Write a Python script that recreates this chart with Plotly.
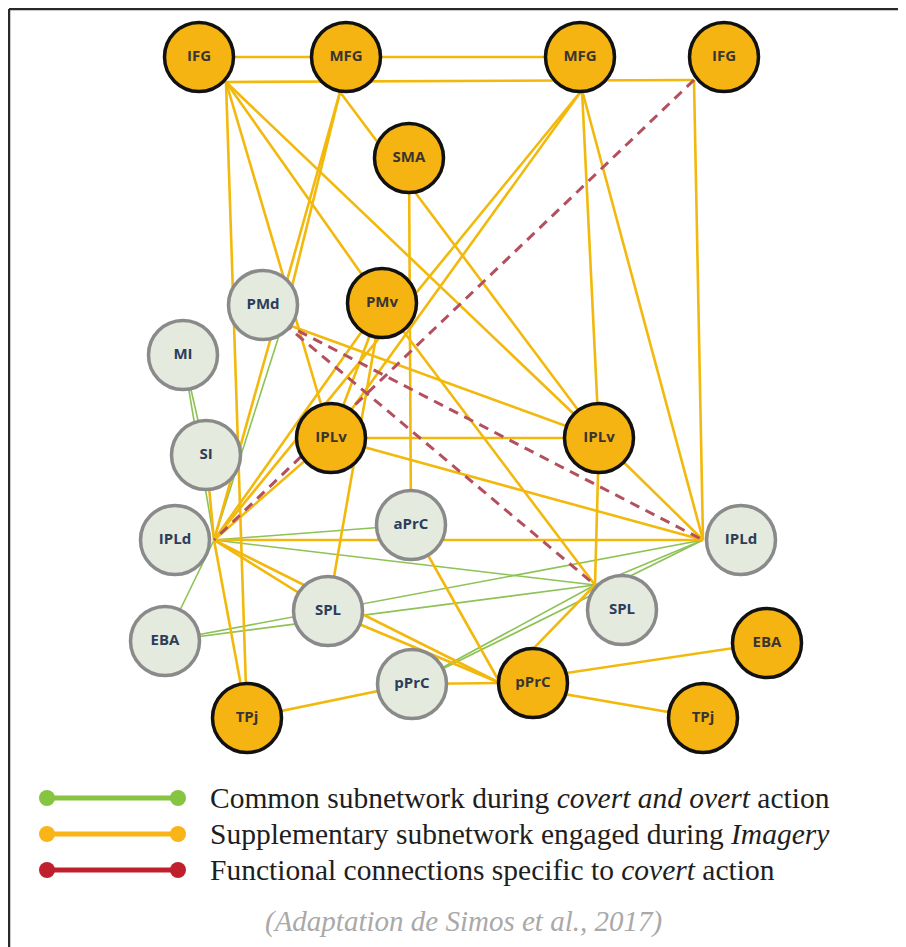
import plotly.graph_objects as go

# ---------------- data ----------------
node_ids = ["IFG_L", "MFG_L", "MFG_R", "IFG_R", "SMA", "PMd", "PMv", "MI", "SI",
            "IPLv_L", "IPLv_R", "IPLd_L", "aPrC", "IPLd_R", "SPL_L", "SPL_R",
            "EBA_L", "EBA_R", "pPrC_L", "pPrC_R", "TPj_L", "TPj_R"]
node_labels = ["IFG", "MFG", "MFG", "IFG", "SMA", "PMd", "PMv", "MI", "SI",
               "IPLv", "IPLv", "IPLd", "aPrC", "IPLd", "SPL", "SPL",
               "EBA", "EBA", "pPrC", "pPrC", "TPj", "TPj"]
node_x = [199, 346, 580, 724, 409, 263, 382, 183, 206,
          331, 599, 175, 411, 741, 328, 622,
          165, 767, 412, 533, 247, 703]
node_y = [57, 57, 57, 57, 158, 305, 303, 355, 455,
          438, 438, 540, 525, 540, 611, 610,
          641, 643, 684, 683, 718, 718]
node_group = ["img", "img", "img", "img", "img", "com", "img", "com", "com",
              "img", "img", "com", "com", "com", "com", "com",
              "com", "img", "com", "img", "img", "img"]

# connection points where several links meet on a node border
port_id = ["IFG_L", "MFG_L", "MFG_R", "IFG_R", "IPLd_L", "IPLd_R", "SPL_R", "pPrC_R", "PMd"]
port_x = [226, 340, 582, 694, 214, 703, 595, 500, 283]
port_y = [82, 92, 90, 80, 540, 540, 585, 683, 323]

# links drawn centre to centre
center_links = [("IFG_L", "MFG_L"), ("MFG_L", "MFG_R")]

imagery_links = [
    ("IFG_L", "IFG_R"), ("IFG_L", "TPj_L"), ("IFG_L", "IPLv_L"), ("IFG_L", "PMv"),
    ("IFG_L", "IPLv_R"), ("MFG_L", "PMd"), ("MFG_L", "IPLd_L"), ("MFG_L", "IPLv_R"),
    ("SMA", "aPrC"), ("MFG_R", "IPLv_R"), ("MFG_R", "IPLd_R"), ("MFG_R", "IPLd_L"),
    ("MFG_R", "IPLv_L"), ("IFG_R", "IPLd_R"), ("PMd", "IPLv_R"), ("PMv", "IPLv_L"),
    ("PMv", "IPLd_L"), ("PMv", "SPL_L"), ("PMv", "SPL_R"), ("IPLv_L", "IPLv_R"),
    ("IPLv_L", "IPLd_R"), ("IPLv_L", "IPLd_L"), ("IPLv_R", "IPLd_R"), ("IPLv_R", "SPL_R"),
    ("IPLd_L", "IPLd_R"), ("IPLd_L", "SPL_L"), ("IPLd_L", "pPrC_R"), ("IPLd_L", "TPj_L"),
    ("SI", "IPLd_L"), ("SPL_L", "pPrC_R"), ("aPrC", "pPrC_R"), ("pPrC_L", "pPrC_R"),
    ("pPrC_L", "TPj_L"), ("pPrC_R", "SPL_R"), ("pPrC_R", "EBA_R"), ("pPrC_R", "TPj_R"),
]
common_links = [
    ("MI", "SI"), ("MI", "IPLd_L"), ("PMd", "IPLd_L"), ("IPLd_L", "aPrC"),
    ("IPLd_L", "SPL_L"), ("IPLd_L", "SPL_R"), ("IPLd_L", "EBA_L"), ("EBA_L", "IPLd_R"),
    ("EBA_L", "SPL_R"), ("pPrC_L", "IPLd_R"), ("pPrC_L", "SPL_R"), ("SPL_R", "IPLd_R"),
]
covert_links = [("IFG_R", "IPLd_L"), ("PMd", "IPLd_R"), ("PMd", "SPL_R")]

legend_texts = [
    "Common subnetwork during <i>covert and overt</i> action",
    "Supplementary subnetwork engaged during <i>Imagery</i>",
    "Functional connections specific to <i>covert</i> action",
]
caption = "<i>(Adaptation de Simos et al., 2017)</i>"

# ---------------- styles ----------------
W, H = 906, 947
OFF = 8  # page body margin of the browser
ORANGE = "#F5B412"
GREY_FILL = "#E4EADD"
YELLOW = "#F2B90C"
GREEN = "#8DC255"
DASH_RED = "#B4505E"
LEG_COLORS = ["#86C441", "#F9B417", "#C0202E"]
SERIF = "Liberation Serif, Times New Roman, serif"

center = {n: (x, y) for n, x, y in zip(node_ids, node_x, node_y)}
port = {n: (x, y) for n, x, y in zip(port_id, port_x, port_y)}


def pt(n, use_center=False):
    if use_center:
        return center[n]
    return port.get(n, center[n])


def segs(links, use_center=False):
    xs, ys = [], []
    for a, b in links:
        (x0, y0), (x1, y1) = pt(a, use_center), pt(b, use_center)
        xs += [x0, x1, None]
        ys += [y0, y1, None]
    return xs, ys


fig = go.Figure()

xs, ys = segs(common_links)
fig.add_trace(go.Scatter(x=xs, y=ys, mode="lines", line=dict(color=GREEN, width=1.6),
                         hoverinfo="skip", showlegend=False))
xs, ys = segs(imagery_links)
xc, yc = segs(center_links, use_center=True)
fig.add_trace(go.Scatter(x=xs + xc, y=ys + yc, mode="lines", line=dict(color=YELLOW, width=2.6),
                         hoverinfo="skip", showlegend=False))
xs, ys = segs(covert_links)
fig.add_trace(go.Scatter(x=xs, y=ys, mode="lines",
                         line=dict(color=DASH_RED, width=3, dash="10px,7px"),
                         hoverinfo="skip", showlegend=False))

# nodes
for grp, fill, edge, tcol in [("com", GREY_FILL, "#8A8A8A", "#2C3D5A"),
                              ("img", ORANGE, "#111111", "#3A3530")]:
    idx = [i for i, g in enumerate(node_group) if g == grp]
    fig.add_trace(go.Scatter(
        x=[node_x[i] for i in idx], y=[node_y[i] for i in idx],
        text=["<b>%s</b>" % node_labels[i] for i in idx],
        mode="markers+text", textposition="middle center",
        textfont=dict(family="Open Sans, Noto Sans, sans-serif", size=15, color=tcol),
        marker=dict(size=69, color=fill, line=dict(color=edge, width=3.5)),
        hoverinfo="skip", showlegend=False))

# legend (drawn manually)
leg_y = [798, 834, 870]
for yv, col, txt in zip(leg_y, LEG_COLORS, legend_texts):
    fig.add_trace(go.Scatter(x=[47, 178], y=[yv, yv], mode="lines+markers",
                             line=dict(color=col, width=5),
                             marker=dict(size=16, color=col),
                             hoverinfo="skip", showlegend=False))
    fig.add_annotation(x=208, y=yv, xref="x", yref="y", text=txt, showarrow=False,
                       xanchor="left", yanchor="middle",
                       font=dict(family=SERIF, size=29.5, color="#1E1E1E"))

fig.add_annotation(x=463, y=921, xref="x", yref="y", text=caption, showarrow=False,
                   xanchor="center", yanchor="middle",
                   font=dict(family=SERIF, size=29, color="#A9A9A9"))

# frame (top and left)
fig.add_shape(type="line", xref="x", yref="y", x0=9, x1=W + OFF, y0=9, y1=9,
              line=dict(color="#2A2A2A", width=2.5))
fig.add_shape(type="line", xref="x", yref="y", x0=9, x1=9, y0=9, y1=H + OFF,
              line=dict(color="#2A2A2A", width=2.5))

fig.update_xaxes(range=[OFF, W + OFF], visible=False, fixedrange=True)
fig.update_yaxes(range=[H + OFF, OFF], visible=False, fixedrange=True)
fig.update_layout(width=W, height=H, autosize=False,
                  margin=dict(l=0, r=0, t=0, b=0),
                  plot_bgcolor="white", paper_bgcolor="white")

fig.write_html("out.html")
